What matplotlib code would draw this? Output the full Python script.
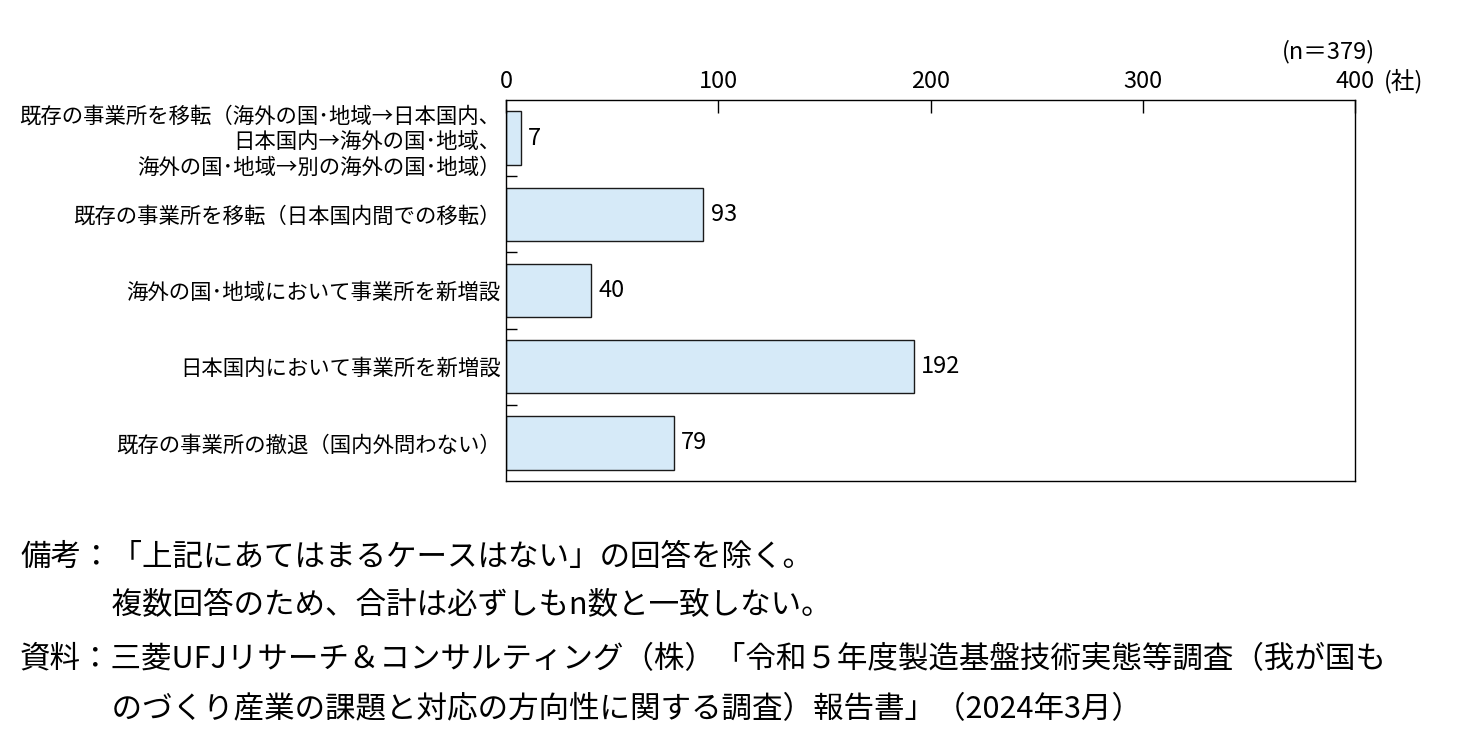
import matplotlib
matplotlib.use("Agg")
import matplotlib.pyplot as plt
import numpy as np

plt.rcParams['font.family'] = ['Noto Sans CJK JP', 'DejaVu Sans']

# データ（上から順）
categories = [
    "既存の事業所を移転（海外の国･地域→日本国内、\n日本国内→海外の国･地域、\n海外の国･地域→別の海外の国･地域）",
    "既存の事業所を移転（日本国内間での移転）",
    "海外の国･地域において事業所を新増設",
    "日本国内において事業所を新増設",
    "既存の事業所の撤退（国内外問わない）",
]
values = [7, 93, 40, 192, 79]
xticks = [0, 100, 200, 300, 400]

notes = [
    "備考：「上記にあてはまるケースはない」の回答を除く。",
    "　　　複数回答のため、合計は必ずしもn数と一致しない。",
    "資料：三菱UFJリサーチ＆コンサルティング（株）「令和５年度製造基盤技術実態等調査（我が国も",
    "　　　のづくり産業の課題と対応の方向性に関する調査）報告書」（2024年3月）",
]

fig = plt.figure(figsize=(14.57, 7.46), dpi=100)
ax = fig.add_axes([506/1457, 1-481/746, (1355-506)/1457, (481-100)/746])

y = np.arange(len(categories))
ax.barh(y, values, height=0.7, color="#d6eaf8", edgecolor="#1a1a1a", linewidth=1)
for yi, v in zip(y, values):
    ax.text(v + 3.5, yi, str(v), va="center", ha="left", fontsize=17)

ax.set_xlim(0, 400)
ax.set_ylim(len(categories) - 0.5, -0.5)
ax.xaxis.tick_top()
ax.set_xticks(xticks)
ax.tick_params(axis="x", direction="in", length=9, width=1, labelsize=17, pad=5)
ax.set_yticks(y)
ax.set_yticklabels(categories, fontsize=15.4, linespacing=1.2)
ax.tick_params(axis="y", length=0, pad=4)
ax.set_yticks(np.arange(0.5, len(categories) - 0.5, 1), minor=True)
ax.tick_params(axis="y", which="minor", direction="in", length=8, width=1)
for s in ax.spines.values():
    s.set_linewidth(1)

fig.text(1375/1457, 1-52/746, "(n＝379)", ha="right", va="center", fontsize=17)
fig.text(1384/1457, 1-81/746, "(社)", ha="left", va="center", fontsize=17)

ys = [557, 605, 660, 710]
for t, yy in zip(notes, ys):
    fig.text(20/1457, 1-yy/746, t, ha="left", va="center", fontsize=22)

fig.savefig("out.png", dpi=100)
